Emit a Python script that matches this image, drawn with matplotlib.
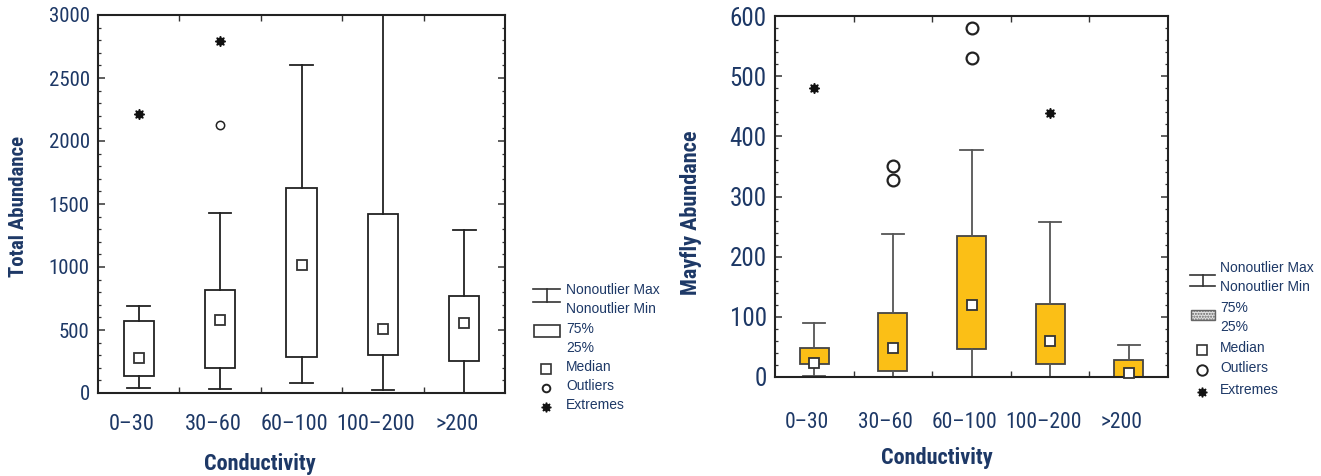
import matplotlib
matplotlib.use("Agg")
import matplotlib.pyplot as plt
from matplotlib.lines import Line2D
from matplotlib.patches import Rectangle
from matplotlib.ticker import MultipleLocator, FixedLocator
from matplotlib.transforms import ScaledTranslation

plt.rcParams['font.family'] = ['Roboto Condensed', 'DejaVu Sans']

# ---- data -------------------------------------------------------------
categories = ["0–30", "30–60", "60–100", "100–200", ">200"]

total_whislo = [37, 34, 79, 26, 0]
total_q1 = [137, 198, 288, 301, 251]
total_med = [278, 579, 1018, 507, 552]
total_q3 = [574, 814, 1625, 1422, 766]
total_whishi = [687, 1427, 2606, 3200, 1292]
total_outliers = [[], [2125], [], [], []]
total_extremes = [[2212], [2796], [], [], []]

mayfly_whislo = [1, 0, 0, 0, 0]
mayfly_q1 = [22, 10, 46, 22, 0]
mayfly_med = [24, 48, 119, 60, 6]
mayfly_q3 = [49, 107, 235, 122, 29]
mayfly_whishi = [89, 237, 377, 258, 54]
mayfly_outliers = [[], [327, 350], [530, 580], [], []]
mayfly_extremes = [[480], [], [], [438], []]

legend_labels = ["Nonoutlier Max", "Nonoutlier Min", "75%", "25%",
                 "Median", "Outliers", "Extremes"]

NAVY = "#1d3866"
GOLD = "#fbbf16"
W, H = 1321, 476

fig = plt.figure(figsize=(W / 100, H / 100), dpi=100)


def px_rect(x0, y0, x1, y1):
    return [x0 / W, 1 - y1 / H, (x1 - x0) / W, (y1 - y0) / H]


def fx(x):
    return x / W


def fy(y):
    return 1 - y / H


def draw_panel(ax, whislo, q1, med, q3, whishi, outliers, extremes,
               ymax, major, minor, face, edge, wcolor, ytick_size,
               xtick_size, xpad, circ_size, circ_lw):
    stats = []
    for i in range(len(categories)):
        stats.append(dict(label=categories[i], whislo=whislo[i], q1=q1[i],
                          med=med[i], q3=q3[i], whishi=whishi[i], fliers=[]))
    pos = list(range(len(categories)))
    ax.bxp(stats, positions=pos, widths=0.37, capwidths=0.28,
           showfliers=False, patch_artist=True,
           boxprops=dict(facecolor=face, edgecolor=edge, linewidth=1.3),
           whiskerprops=dict(color=wcolor, linewidth=1.3),
           capprops=dict(color=wcolor, linewidth=1.3),
           medianprops=dict(linestyle="none"))
    ax.plot(pos, med, linestyle="none", marker="s", markersize=7,
            markerfacecolor="white", markeredgecolor="#333333",
            markeredgewidth=1.3, clip_on=False, zorder=5)
    for i, vals in enumerate(outliers):
        ax.plot([i] * len(vals), vals, linestyle="none", marker="o",
                markersize=circ_size, markerfacecolor="white",
                markeredgecolor="#222222", markeredgewidth=circ_lw, zorder=5)
    for i, vals in enumerate(extremes):
        ax.plot([i] * len(vals), vals, linestyle="none", marker=(8, 1, 0),
                markersize=7.5, color="#111111", zorder=5)

    ax.set_xlim(-0.5, len(categories) - 0.5)
    ax.set_ylim(0, ymax)
    ax.set_xticks(pos)
    ax.set_xticklabels(categories)
    ax.xaxis.set_minor_locator(FixedLocator([p + 0.5 for p in pos[:-1]]))
    ax.yaxis.set_major_locator(MultipleLocator(major))
    ax.yaxis.set_minor_locator(MultipleLocator(minor))
    ax.tick_params(axis="x", which="major", length=0, labelsize=xtick_size,
                   labelcolor=NAVY, pad=xpad)
    ax.tick_params(axis="x", which="minor", direction="in", length=4,
                   top=True, bottom=True, width=1, color="#333333")
    ax.tick_params(axis="y", which="major", direction="in", length=5,
                   left=True, right=True, width=1.1, color="#333333",
                   labelsize=ytick_size, labelcolor=NAVY, pad=6)
    ax.tick_params(axis="y", which="minor", direction="in", length=2.5,
                   left=True, right=True, width=0.9, color="#333333")
    for lab in ax.get_xticklabels():
        lab.set_transform(lab.get_transform()
                          + ScaledTranslation(-7 / 100, 0, fig.dpi_scale_trans))
    for sp in ax.spines.values():
        sp.set_linewidth(1.5)
        sp.set_color("#222222")


def draw_legend(x_sym, x_txt, rows, whisk_y, box_y, box_style, circ_size):
    # whisker symbol
    xa, xb = x_sym
    xm = (xa + xb) / 2
    y_top, y_bot = whisk_y
    fig.add_artist(Line2D([fx(xa), fx(xb)], [fy(y_top), fy(y_top)],
                          color="#333333", lw=1.2))
    fig.add_artist(Line2D([fx(xa), fx(xb)], [fy(y_bot), fy(y_bot)],
                          color="#333333", lw=1.2))
    fig.add_artist(Line2D([fx(xm), fx(xm)], [fy(y_top), fy(y_bot)],
                          color="#333333", lw=1.2))
    # box symbol
    b0, b1 = box_y
    fig.add_artist(Rectangle((fx(xa + 1), fy(b1)), fx(xb - xa - 1),
                             fy(b0) - fy(b1), transform=fig.transFigure,
                             **box_style))
    # median, outlier, extreme symbols
    xs = fx(xm - 1)
    fig.add_artist(Line2D([xs], [fy(rows[4] + 2)], marker="s", markersize=6.5,
                          markerfacecolor="white", markeredgecolor="#333333",
                          markeredgewidth=1.2, linestyle="none"))
    fig.add_artist(Line2D([xs], [fy(rows[5] + 2)], marker="o",
                          markersize=circ_size, markerfacecolor="white",
                          markeredgecolor="#222222", markeredgewidth=1.4,
                          linestyle="none"))
    fig.add_artist(Line2D([xs], [fy(rows[6] + 2)], marker=(8, 1, 0),
                          markersize=7, color="#111111", linestyle="none"))
    for lab, y in zip(legend_labels, rows):
        fig.text(fx(x_txt), fy(y), lab, fontsize=10, color=NAVY,
                 family=["Liberation Sans", "DejaVu Sans"],
                 ha="left", va="center")


# ---- left panel: total abundance -----------------------------------
ax1 = fig.add_axes(px_rect(98, 15, 505, 393))
draw_panel(ax1, total_whislo, total_q1, total_med, total_q3, total_whishi,
           total_outliers, total_extremes, 3000, 500, 100,
           "white", "#222222", "#222222", 15, 16, 15, 6, 1.1)
fig.text(fx(19), fy(206), "Total Abundance", rotation=90, fontsize=15,
         fontweight="bold", color=NAVY, ha="center", va="center")
fig.text(fx(260), fy(464), "Conductivity", fontsize=16, fontweight="bold",
         color=NAVY, ha="center", va="center")
draw_legend((533, 560), 566, [290, 309, 329, 348, 367, 386, 405],
            (289, 302), (325, 337),
            dict(facecolor="white", edgecolor="#333333", linewidth=1.2),
            5.5)

# ---- right panel: mayfly abundance ----------------------------------
ax2 = fig.add_axes(px_rect(775, 16, 1168, 377))
draw_panel(ax2, mayfly_whislo, mayfly_q1, mayfly_med, mayfly_q3,
           mayfly_whishi, mayfly_outliers, mayfly_extremes, 600, 100, 20,
           GOLD, "#444444", "#555555", 18, 15.5, 25, 8.5, 1.6)
fig.text(fx(691), fy(213), "Mayfly Abundance", rotation=90, fontsize=16,
         fontweight="bold", color=NAVY, ha="center", va="center")
fig.text(fx(937), fy(458), "Conductivity", fontsize=16, fontweight="bold",
         color=NAVY, ha="center", va="center")
draw_legend((1190, 1215), 1220, [268, 287, 308, 327, 348, 368, 390],
            (275, 286), (310, 320),
            dict(facecolor="#e2e2e2", edgecolor="#666666", linewidth=1.0,
                 hatch="......"),
            7.5)

fig.savefig("out.png", dpi=100)
